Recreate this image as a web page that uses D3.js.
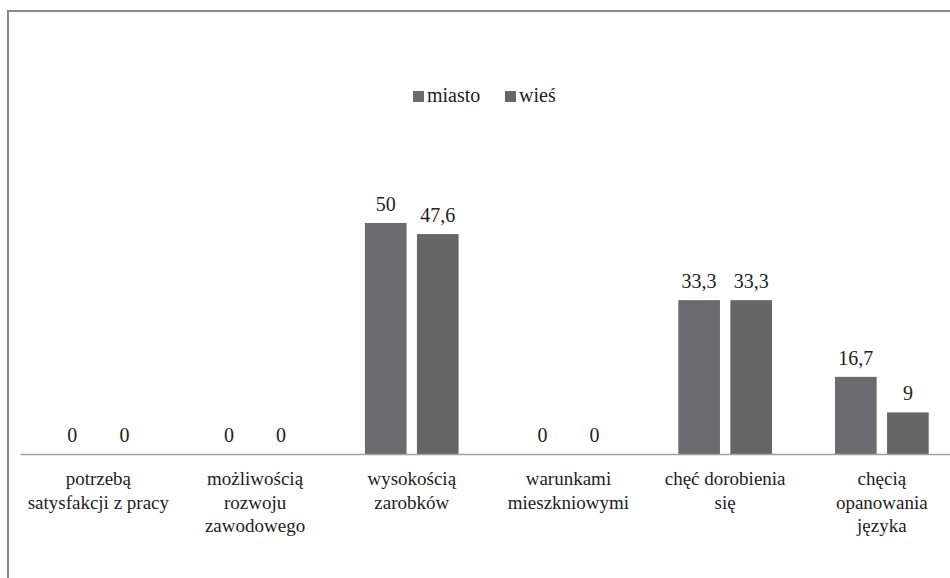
<!DOCTYPE html>
<html>
<head>
<meta charset="utf-8">
<script src="https://cdn.jsdelivr.net/npm/d3@7"></script>
<style>
  body { margin: 0; background: #fff; }
</style>
</head>
<body>
<div id="chart"></div>
<script>
// data
const categories = [
  'potrzebą\nsatysfakcji z pracy',
  'możliwością\nrozwoju\nzawodowego',
  'wysokością\nzarobków',
  'warunkami\nmieszkniowymi',
  'chęć dorobienia\nsię',
  'chęcią\nopanowania\njęzyka'
];
const seriesNames = ['miasto', 'wieś'];
const miasto = [0, 0, 50, 0, 33.3, 16.7];
const wies = [0, 0, 47.6, 0, 33.3, 9];

const width = 950, height = 578;
const colors = ['#6b6b6f', '#666666'];
const fontFamily = '"Liberation Serif", Tinos, "Times New Roman", "DejaVu Serif", serif';

const svg = d3.select('#chart').append('svg')
  .attr('width', width)
  .attr('height', height)
  .style('font-family', fontFamily);

// frame (runs off the right and bottom edges like the scan)
svg.append('rect')
  .attr('x', 8).attr('y', 11)
  .attr('width', 960).attr('height', 600)
  .attr('fill', 'none')
  .attr('stroke', '#8a8a8a')
  .attr('stroke-width', 2);

const x0 = d3.scaleBand()
  .domain(categories)
  .range([20, 20 + 6 * 156.7])
  .paddingInner(0)
  .paddingOuter(0);

const x1 = d3.scaleBand()
  .domain(seriesNames)
  .range([31.5, 156.7 - 31.5])
  .paddingInner(0.2);

const y = d3.scaleLinear()
  .domain([0, 50])
  .range([454, 223]);

const rows = categories.map((c, i) => ({ cat: c, values: [miasto[i], wies[i]] }));

const groups = svg.append('g').selectAll('g')
  .data(rows)
  .join('g')
  .attr('transform', d => `translate(${x0(d.cat)},0)`);

groups.selectAll('rect')
  .data(d => d.values.map((v, j) => ({ key: seriesNames[j], v, j })))
  .join('rect')
  .attr('x', d => x1(d.key))
  .attr('y', d => y(d.v))
  .attr('width', x1.bandwidth())
  .attr('height', d => y(0) - y(d.v))
  .attr('fill', d => colors[d.j]);

groups.selectAll('text.val')
  .data(d => d.values.map((v, j) => ({ key: seriesNames[j], v, j })))
  .join('text')
  .attr('class', 'val')
  .attr('x', d => x1(d.key) + x1.bandwidth() / 2)
  .attr('y', d => y(d.v) - 12)
  .attr('text-anchor', 'middle')
  .attr('font-size', 20)
  .attr('fill', '#222')
  .text(d => String(d.v).replace('.', ','));

// axis
const xAxis = d3.axisBottom(x0).tickSize(0).tickFormat('');
const axisG = svg.append('g')
  .attr('transform', `translate(0,${y(0)})`)
  .call(xAxis);
axisG.select('.domain').attr('stroke', '#a0a0a0').attr('stroke-width', 1.5);

// category labels
const labels = svg.append('g').selectAll('text')
  .data(categories)
  .join('text')
  .attr('x', d => x0(d) + x0.bandwidth() / 2)
  .attr('y', y(0) + 31)
  .attr('text-anchor', 'middle')
  .attr('font-size', 19)
  .attr('fill', '#222');
labels.each(function (d) {
  const t = d3.select(this);
  d.split('\n').forEach((line, i) => {
    t.append('tspan')
      .attr('x', x0(d) + x0.bandwidth() / 2)
      .attr('dy', i === 0 ? 0 : 23.5)
      .text(line);
  });
});

// legend
const legend = svg.append('g').attr('transform', 'translate(413,91)');
const legendX = [0, 92];
seriesNames.forEach((name, i) => {
  const g = legend.append('g').attr('transform', `translate(${legendX[i]},0)`);
  g.append('rect')
    .attr('width', 11).attr('height', 11)
    .attr('fill', colors[i]);
  g.append('text')
    .attr('x', 14).attr('y', 11)
    .attr('font-size', 20)
    .attr('fill', '#222')
    .text(name);
});
</script>
</body>
</html>
